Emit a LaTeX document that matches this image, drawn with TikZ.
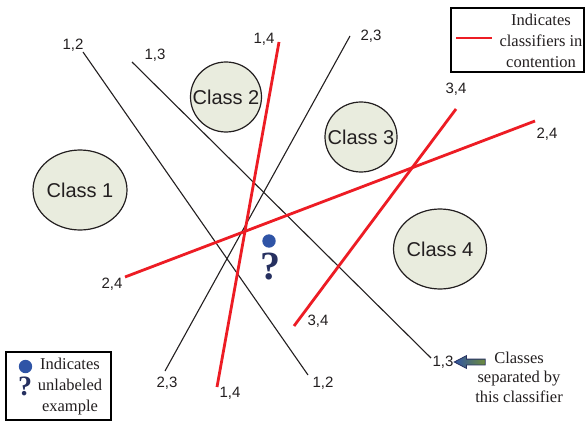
\documentclass[tikz,border=0pt]{standalone}
\usepackage{fontspec}
\setmainfont{Liberation Serif}
\newfontfamily\arialf{Liberation Sans}
\usetikzlibrary{shapes.arrows,shapes.geometric}
\definecolor{clsfill}{RGB}{233,236,222}
\definecolor{redln}{RGB}{237,28,36}
\definecolor{dotblue}{RGB}{47,84,166}
\definecolor{qnavy}{RGB}{38,48,96}
\definecolor{txt}{RGB}{35,31,32}
\definecolor{arrg}{RGB}{110,140,60}
\tikzset{
  clsshape/.style={draw=txt, line width=1.2pt, fill=clsfill},
  clstxt/.style={inner sep=0pt, font=\arialf\fontsize{20}{24}\selectfont, text=txt},
  blk/.style={draw=txt, line width=1.1pt},
  redc/.style={draw=redln, line width=2.8pt},
  lbl/.style={font=\arialf\fontsize{15}{18}\selectfont, text=txt, inner sep=0pt},
  legtxt/.style={font=\fontsize{16.5}{21}\selectfont, align=center, text=txt, inner sep=0pt},
  legbox/.style={draw=black, line width=1.5pt},
  qmark/.style={text=qnavy, inner sep=0pt},
}
\begin{document}
\begin{tikzpicture}[x=1pt,y=-1pt]
\useasboundingbox (0,0) rectangle (585,422);
\fill[white] (0,0) rectangle (585,422);
% classes
\draw[clsshape] (80,190) ellipse [x radius=47, y radius=40];
\draw[clsshape] (226,97) ellipse [x radius=35.5, y radius=35];
\draw[clsshape] (361,137) ellipse [x radius=36, y radius=35];
\draw[clsshape] (440,249) ellipse [x radius=46.5, y radius=40];
\node[clstxt] (c1) at (80,190) {Class 1};
\node[clstxt] (c2) at (226,97) {Class 2};
\node[clstxt] (c3) at (361,137) {Class 3};
\node[clstxt] (c4) at (440,249) {Class 4};
% classifier end points
\coordinate (a12) at (83,52);   \coordinate (b12) at (308,375);
\coordinate (a13) at (132,62);  \coordinate (b13) at (431,358);
\coordinate (a14) at (279,42);  \coordinate (b14) at (217,387);
\coordinate (a23) at (350,36);  \coordinate (b23) at (165,371);
\coordinate (a34) at (456,109); \coordinate (b34) at (294,326);
\coordinate (a24) at (535,121); \coordinate (b24) at (125,277);
\draw[blk] (a12) -- (b12);
\draw[blk] (a13) -- (b13);
\draw[blk] (a23) -- (b23);
\draw[redc] (a14) -- (b14);
\draw[redc] (a34) -- (b34);
\draw[redc] (a24) -- (b24);
% labels
\node[lbl] (la12) at (73,45) {1,2};
\node[lbl] (lb12) at (323,383) {1,2};
\node[lbl] (la13) at (155,55) {1,3};
\node[lbl] (lb13) at (443,362) {1,3};
\node[lbl] (la14) at (264,39) {1,4};
\node[lbl] (lb14) at (230,393) {1,4};
\node[lbl] (la23) at (371,36) {2,3};
\node[lbl] (lb23) at (167,383) {2,3};
\node[lbl] (la34) at (456,89) {3,4};
\node[lbl] (lb34) at (318,321) {3,4};
\node[lbl] (la24) at (547,134) {2,4};
\node[lbl] (lb24) at (112,284) {2,4};
% unlabeled example
\node[circle, fill=dotblue, minimum size=13.4pt, inner sep=0pt] (dot) at (269,241) {};
\node[qmark, font=\bfseries\fontsize{40}{40}\selectfont] (q) at (270,267) {?};
% legend top right
\draw[legbox] (451,8) rectangle (584,72);
\coordinate (rl1) at (456,38); \coordinate (rl2) at (492,38);
\draw[redc] (rl1) -- (rl2);
\node[legtxt] (lt1) at (541,41) {Indicates\\classifiers in\\contention};
% legend bottom left
\draw[legbox] (6,352) rectangle (111,420);
\node[circle, fill=dotblue, minimum size=13.4pt, inner sep=0pt] (ldot) at (25.5,366.5) {};
\node[qmark, font=\bfseries\fontsize{28}{28}\selectfont] (lq) at (25,386) {?};
\node[legtxt] (lt2) at (70,387) {Indicates\\unlabeled\\example};
% arrow note
\node[legtxt, font=\fontsize{16.5}{19.5}\selectfont] (note) at (519,377) {Classes\\separated by\\this classifier};
\node[single arrow, shape border rotate=180, draw=qnavy, line width=0.8pt,
      left color=dotblue, right color=arrg, minimum height=31pt, inner sep=2.5pt,
      single arrow head extend=3.5pt, single arrow tip angle=55] (arr) at (472.5,362) {};
\end{tikzpicture}
\end{document}
